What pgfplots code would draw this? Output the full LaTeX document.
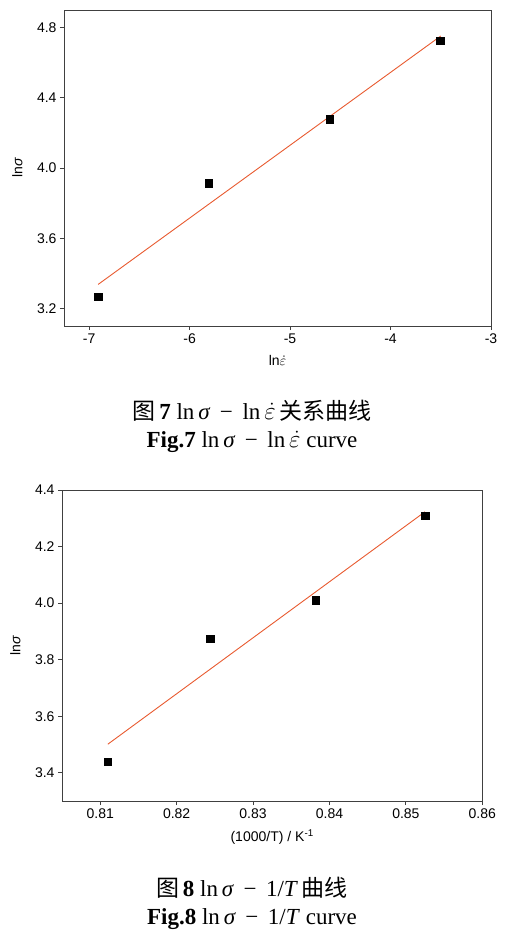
\documentclass[border=0pt]{standalone}
\usepackage{pgfplots}
\pgfplotsset{compat=1.18}
\usepackage{fontspec}
\setmainfont{Liberation Serif}
\newfontfamily\sans{Liberation Sans}
\newfontfamily\cjk{Noto Sans CJK SC}
\definecolor{fitc}{HTML}{E85A30}
\definecolor{axc}{HTML}{404040}
\newcommand{\capfont}{\fontsize{23}{26}\selectfont}
\begin{document}
\begin{tikzpicture}
\useasboundingbox (0pt,0pt) rectangle (509pt,-945pt);
\pgfplotsset{every axis/.append style={
  scale only axis,
  axis line style={draw=axc, line width=0.8pt},
  tick style={draw=axc, line width=0.8pt},
  tick align=outside, tick pos=left,
  major tick length=4pt,
  ticklabel style={font=\sans\fontsize{14}{16}\selectfont},
  /pgf/number format/assume math mode=true,
  label style={font=\sans\fontsize{14}{16}\selectfont, inner sep=1pt},
  xlabel style={yshift=-7pt},
  ylabel style={yshift=10pt},
  scaled ticks=false,
}}
% ---------- Fig. 7 ----------
\begin{axis}[at={(64pt,-326pt)}, anchor=south west,
  width=427pt, height=316pt,
  xmin=-7.25, xmax=-3, ymin=3.1, ymax=4.9,
  xtick={-7,-6,-5,-4,-3},
  ytick={3.2,3.6,4.0,4.4,4.8},
  yticklabel style={/pgf/number format/.cd, fixed, fixed zerofill, precision=1},
  xlabel={ln$\dot{\varepsilon}$},
  ylabel={ln\textit{σ}},
]
\addplot[fitc, line width=0.9pt] coordinates {(-6.91,3.337) (-3.50,4.752)};
\addplot[only marks, mark=square*, mark size=3.8pt, black] coordinates {
(-6.908,3.266) (-5.809,3.914) (-4.605,4.279) (-3.507,4.726)};
\end{axis}
\node[font=\capfont, inner sep=0pt] at (252pt,-411pt) {{\cjk 图}\,\textbf{7} ln\,\textit{σ} \,−\, ln\,$\dot{\varepsilon}$\,{\cjk 关系曲线}};
\node[font=\capfont, inner sep=0pt] at (252pt,-442pt) {\textbf{Fig.7} ln\,\textit{σ} \,−\, ln\,$\dot{\varepsilon}$ curve};
% ---------- Fig. 8 ----------
\begin{axis}[at={(62pt,-801pt)}, anchor=south west,
  width=420.3pt, height=311pt,
  xmin=0.805, xmax=0.86, ymin=3.3, ymax=4.4,
  xtick={0.81,0.82,0.83,0.84,0.85,0.86},
  ytick={3.4,3.6,3.8,4.0,4.2,4.4},
  xticklabel style={/pgf/number format/.cd, fixed, fixed zerofill, precision=2},
  yticklabel style={/pgf/number format/.cd, fixed, fixed zerofill, precision=1},
  xlabel={(1000/T) / K\textsuperscript{-1}},
  ylabel={ln\textit{σ}},
]
\addplot[fitc, line width=0.9pt] coordinates {(0.8110,3.501) (0.8525,4.323)};
\addplot[only marks, mark=square*, mark size=3.8pt, black] coordinates {
(0.8110,3.439) (0.8244,3.874) (0.8382,4.011) (0.8525,4.309)};
\end{axis}
\node[font=\capfont, inner sep=0pt] at (252pt,-888pt) {{\cjk 图}\,\textbf{8} ln\,\textit{σ} \,−\, 1/\textit{T}\,{\cjk 曲线}};
\node[font=\capfont, inner sep=0pt] at (252pt,-919pt) {\textbf{Fig.8} ln\,\textit{σ} \,−\, 1/\textit{T} curve};
\end{tikzpicture}
\end{document}
